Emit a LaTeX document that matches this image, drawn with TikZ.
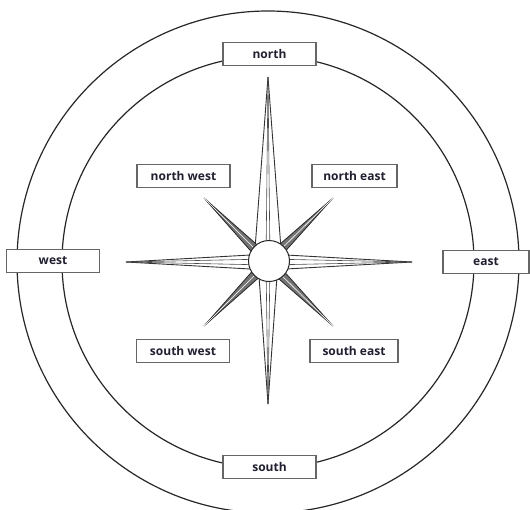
\documentclass[tikz,border=0pt]{standalone}
\usepackage{fontspec}
\setmainfont{Open Sans}
\usetikzlibrary{calc}
\definecolor{txt}{HTML}{202030}
\definecolor{boxline}{HTML}{666666}
\tikzset{
  lbl/.style={draw=boxline, line width=1.3pt, fill=white, text=txt,
    font=\bfseries\fontsize{12}{14}\selectfont, minimum height=23pt,
    minimum width=93pt, inner sep=0pt},
  ring/.style={draw=black!85, line width=1.2pt},
  ray/.style={draw=black!80, fill=white, line width=0.9pt, line join=miter},
  iray/.style={draw=black!70, line width=0.6pt},
  dray/.style={draw=black!85, fill=black!55, line width=0.8pt, line join=miter},
  hub/.style={circle, draw=black!85, fill=white, line width=1pt, minimum size=41pt, inner sep=0pt}
}
\begin{document}
\begin{tikzpicture}[x=1pt,y=-1pt]
\useasboundingbox (0,0) rectangle (530,509);
\coordinate (C) at (268,262);
\draw[ring] (C) circle[radius=251pt];
\draw[ring] (C) circle[radius=206pt];
% north
\draw[ray] ($(C)+(0,-185)$) -- ($(C)+(-14,0)$) -- ($(C)+(14,0)$) -- cycle;
\draw[iray] ($(C)+(0,-185)$) -- ($(C)+(-2,0)$);
\draw[iray] ($(C)+(0,-185)$) -- ($(C)+(2,0)$);
% south
\draw[ray] ($(C)+(0,142)$) -- ($(C)+(-10,0)$) -- ($(C)+(10,0)$) -- cycle;
\draw[iray] ($(C)+(0,142)$) -- ($(C)+(-2,0)$);
\draw[iray] ($(C)+(0,142)$) -- ($(C)+(2,0)$);
% west
\draw[ray] ($(C)+(-142,0)$) -- ($(C)+(0,-8)$) -- ($(C)+(0,8)$) -- cycle;
\draw[iray] ($(C)+(-142,0)$) -- ($(C)+(0,-3)$);
\draw[iray] ($(C)+(-142,0)$) -- ($(C)+(0,3)$);
% east
\draw[ray] ($(C)+(144,0)$) -- ($(C)+(0,-8)$) -- ($(C)+(0,8)$) -- cycle;
\draw[iray] ($(C)+(144,0)$) -- ($(C)+(0,-3)$);
\draw[iray] ($(C)+(144,0)$) -- ($(C)+(0,3)$);
% diagonals
\draw[dray] ($(C)+(-64,-64)$) -- ($(C)+(-4,4)$) -- ($(C)+(4,-4)$) -- cycle;
\draw[iray, draw=white] ($(C)+(-64,-64)$) -- (C);
\draw[dray] ($(C)+(65,-64)$) -- ($(C)+(-4,-4)$) -- ($(C)+(4,4)$) -- cycle;
\draw[iray, draw=white] ($(C)+(65,-64)$) -- (C);
\draw[dray] ($(C)+(-64,64)$) -- ($(C)+(-4,-4)$) -- ($(C)+(4,4)$) -- cycle;
\draw[iray, draw=white] ($(C)+(-64,64)$) -- (C);
\draw[dray] ($(C)+(65,64)$) -- ($(C)+(-4,4)$) -- ($(C)+(4,-4)$) -- cycle;
\draw[iray, draw=white] ($(C)+(65,64)$) -- (C);
\node[hub] (hub) at (269,261) {};
% labels
\node[lbl] (north) at (269.5,54) {north};
\node[lbl] (south) at (269.5,467) {south};
\node[lbl] (west) at (53,261) {west};
\node[lbl, minimum width=86pt] (east) at (486,262) {east};
\node[lbl] (nw) at (183.5,176) {north west};
\node[lbl, minimum width=85pt] (ne) at (354.5,176) {north east};
\node[lbl] (sw) at (183,351) {south west};
\node[lbl, minimum width=88pt] (se) at (354,351) {south east};
\end{tikzpicture}
\end{document}
